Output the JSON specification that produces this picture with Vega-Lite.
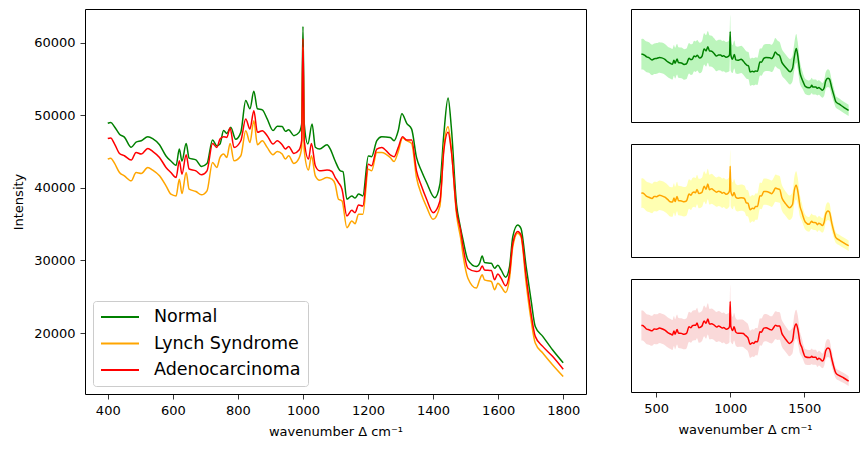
{
  "$schema": "https://vega.github.io/schema/vega-lite/v6.json",
  "padding": {"left": 12, "top": 8, "right": 5, "bottom": 5},
  "background": "white",
  "datasets": {
    "spectra": [
      {"w":400,"g":"Normal","v":48900,"sd":9000},{"w":409,"g":"Normal","v":49000,"sd":9000},{"w":421,"g":"Normal","v":48400,"sd":9000},{"w":436,"g":"Normal","v":47400,"sd":9000},{"w":451,"g":"Normal","v":47000,"sd":9000},{"w":472,"g":"Normal","v":45600,"sd":9000},{"w":487,"g":"Normal","v":46300,"sd":9000},{"w":503,"g":"Normal","v":46500,"sd":9000},{"w":523,"g":"Normal","v":47050,"sd":9000},{"w":538,"g":"Normal","v":46800,"sd":9000},{"w":559,"g":"Normal","v":45950,"sd":9000},{"w":579,"g":"Normal","v":44400,"sd":9000},{"w":594,"g":"Normal","v":43700,"sd":9000},{"w":610,"g":"Normal","v":43100,"sd":9000},{"w":620,"g":"Normal","v":45350,"sd":9000},{"w":628,"g":"Normal","v":43700,"sd":9000},{"w":641,"g":"Normal","v":46100,"sd":9000},{"w":650,"g":"Normal","v":44100,"sd":9000},{"w":671,"g":"Normal","v":43850,"sd":9000},{"w":688,"g":"Normal","v":42950,"sd":9000},{"w":705,"g":"Normal","v":43350,"sd":9000},{"w":722,"g":"Normal","v":46600,"sd":9000},{"w":735,"g":"Normal","v":45800,"sd":9000},{"w":745,"g":"Normal","v":46050,"sd":9000},{"w":756,"g":"Normal","v":47900,"sd":9000},{"w":766,"g":"Normal","v":47500,"sd":9000},{"w":778,"g":"Normal","v":48350,"sd":9000},{"w":793,"g":"Normal","v":46700,"sd":9000},{"w":809,"g":"Normal","v":47650,"sd":9000},{"w":824,"g":"Normal","v":52050,"sd":9200},{"w":837,"g":"Normal","v":50900,"sd":9200},{"w":849,"g":"Normal","v":53300,"sd":9300},{"w":860,"g":"Normal","v":50900,"sd":9200},{"w":875,"g":"Normal","v":50750,"sd":9100},{"w":890,"g":"Normal","v":49500,"sd":9000},{"w":908,"g":"Normal","v":47900,"sd":9000},{"w":921,"g":"Normal","v":48500,"sd":9000},{"w":936,"g":"Normal","v":48450,"sd":9000},{"w":946,"g":"Normal","v":47800,"sd":9000},{"w":956,"g":"Normal","v":48000,"sd":9000},{"w":972,"g":"Normal","v":47200,"sd":9000},{"w":988,"g":"Normal","v":47650,"sd":9000},{"w":996,"g":"Normal","v":48800,"sd":9500},{"w":1000,"g":"Normal","v":62250,"sd":9800},{"w":1004,"g":"Normal","v":48800,"sd":9500},{"w":1015,"g":"Normal","v":46050,"sd":8200},{"w":1028,"g":"Normal","v":48800,"sd":8200},{"w":1038,"g":"Normal","v":45600,"sd":8000},{"w":1051,"g":"Normal","v":45350,"sd":8000},{"w":1074,"g":"Normal","v":45950,"sd":8000},{"w":1084,"g":"Normal","v":45350,"sd":8000},{"w":1099,"g":"Normal","v":43700,"sd":8000},{"w":1115,"g":"Normal","v":42350,"sd":8000},{"w":1123,"g":"Normal","v":42250,"sd":8000},{"w":1135,"g":"Normal","v":38450,"sd":8000},{"w":1150,"g":"Normal","v":38900,"sd":8000},{"w":1160,"g":"Normal","v":38600,"sd":8000},{"w":1171,"g":"Normal","v":39150,"sd":8000},{"w":1184,"g":"Normal","v":38900,"sd":8000},{"w":1201,"g":"Normal","v":44400,"sd":8000},{"w":1211,"g":"Normal","v":44300,"sd":8000},{"w":1227,"g":"Normal","v":46500,"sd":8000},{"w":1242,"g":"Normal","v":47050,"sd":8000},{"w":1268,"g":"Normal","v":46950,"sd":8000},{"w":1280,"g":"Normal","v":46500,"sd":8000},{"w":1293,"g":"Normal","v":47900,"sd":8200},{"w":1304,"g":"Normal","v":50200,"sd":8300},{"w":1319,"g":"Normal","v":48900,"sd":8200},{"w":1334,"g":"Normal","v":48100,"sd":8000},{"w":1349,"g":"Normal","v":44200,"sd":7800},{"w":1364,"g":"Normal","v":42350,"sd":7600},{"w":1380,"g":"Normal","v":40750,"sd":7500},{"w":1405,"g":"Normal","v":38650,"sd":7500},{"w":1421,"g":"Normal","v":40500,"sd":7500},{"w":1433,"g":"Normal","v":47400,"sd":8000},{"w":1446,"g":"Normal","v":52400,"sd":8500},{"w":1456,"g":"Normal","v":48350,"sd":8000},{"w":1472,"g":"Normal","v":37750,"sd":6500},{"w":1482,"g":"Normal","v":35000,"sd":5500},{"w":1492,"g":"Normal","v":32830,"sd":4800},{"w":1507,"g":"Normal","v":30080,"sd":4500},{"w":1533,"g":"Normal","v":29160,"sd":4400},{"w":1543,"g":"Normal","v":29620,"sd":4400},{"w":1551,"g":"Normal","v":30630,"sd":4500},{"w":1558,"g":"Normal","v":29710,"sd":4400},{"w":1579,"g":"Normal","v":29620,"sd":4400},{"w":1589,"g":"Normal","v":28930,"sd":4300},{"w":1599,"g":"Normal","v":29350,"sd":4300},{"w":1609,"g":"Normal","v":28700,"sd":4300},{"w":1623,"g":"Normal","v":27700,"sd":4300},{"w":1635,"g":"Normal","v":29160,"sd":4600},{"w":1645,"g":"Normal","v":33290,"sd":5000},{"w":1660,"g":"Normal","v":34890,"sd":5200},{"w":1670,"g":"Normal","v":34430,"sd":5100},{"w":1686,"g":"Normal","v":29160,"sd":4600},{"w":1701,"g":"Normal","v":24580,"sd":4000},{"w":1714,"g":"Normal","v":20910,"sd":3500},{"w":1737,"g":"Normal","v":19540,"sd":3400},{"w":1767,"g":"Normal","v":17700,"sd":3300},{"w":1800,"g":"Normal","v":15900,"sd":3300},

      {"w":400,"g":"Lynch Syndrome","v":43970,"sd":8400},{"w":409,"g":"Lynch Syndrome","v":44100,"sd":8400},{"w":421,"g":"Lynch Syndrome","v":43370,"sd":8400},{"w":436,"g":"Lynch Syndrome","v":42120,"sd":8400},{"w":451,"g":"Lynch Syndrome","v":41660,"sd":8400},{"w":472,"g":"Lynch Syndrome","v":40970,"sd":8400},{"w":487,"g":"Lynch Syndrome","v":42120,"sd":8400},{"w":503,"g":"Lynch Syndrome","v":41980,"sd":8400},{"w":523,"g":"Lynch Syndrome","v":42810,"sd":8400},{"w":538,"g":"Lynch Syndrome","v":42450,"sd":8400},{"w":559,"g":"Lynch Syndrome","v":41660,"sd":8400},{"w":579,"g":"Lynch Syndrome","v":40280,"sd":8400},{"w":594,"g":"Lynch Syndrome","v":39130,"sd":8400},{"w":610,"g":"Lynch Syndrome","v":38900,"sd":8400},{"w":620,"g":"Lynch Syndrome","v":41200,"sd":8400},{"w":628,"g":"Lynch Syndrome","v":39220,"sd":8400},{"w":641,"g":"Lynch Syndrome","v":42120,"sd":8400},{"w":650,"g":"Lynch Syndrome","v":39820,"sd":8400},{"w":671,"g":"Lynch Syndrome","v":39500,"sd":8400},{"w":688,"g":"Lynch Syndrome","v":39040,"sd":8400},{"w":705,"g":"Lynch Syndrome","v":39590,"sd":8400},{"w":722,"g":"Lynch Syndrome","v":43510,"sd":8400},{"w":735,"g":"Lynch Syndrome","v":42810,"sd":8400},{"w":745,"g":"Lynch Syndrome","v":44200,"sd":8400},{"w":756,"g":"Lynch Syndrome","v":44660,"sd":8400},{"w":766,"g":"Lynch Syndrome","v":44200,"sd":8400},{"w":776,"g":"Lynch Syndrome","v":46130,"sd":8400},{"w":788,"g":"Lynch Syndrome","v":43740,"sd":8400},{"w":809,"g":"Lynch Syndrome","v":44430,"sd":8400},{"w":824,"g":"Lynch Syndrome","v":47880,"sd":8600},{"w":837,"g":"Lynch Syndrome","v":46270,"sd":8600},{"w":849,"g":"Lynch Syndrome","v":49260,"sd":8700},{"w":860,"g":"Lynch Syndrome","v":45950,"sd":8500},{"w":875,"g":"Lynch Syndrome","v":46500,"sd":8500},{"w":890,"g":"Lynch Syndrome","v":45580,"sd":8400},{"w":908,"g":"Lynch Syndrome","v":44570,"sd":8400},{"w":921,"g":"Lynch Syndrome","v":45030,"sd":8400},{"w":936,"g":"Lynch Syndrome","v":44660,"sd":8400},{"w":946,"g":"Lynch Syndrome","v":43970,"sd":8400},{"w":956,"g":"Lynch Syndrome","v":44430,"sd":8400},{"w":972,"g":"Lynch Syndrome","v":43370,"sd":8400},{"w":988,"g":"Lynch Syndrome","v":44100,"sd":8400},{"w":996,"g":"Lynch Syndrome","v":45580,"sd":8800},{"w":1000,"g":"Lynch Syndrome","v":59400,"sd":9200},{"w":1004,"g":"Lynch Syndrome","v":45120,"sd":8800},{"w":1017,"g":"Lynch Syndrome","v":42450,"sd":7600},{"w":1026,"g":"Lynch Syndrome","v":44430,"sd":7600},{"w":1038,"g":"Lynch Syndrome","v":41660,"sd":7500},{"w":1051,"g":"Lynch Syndrome","v":41060,"sd":7500},{"w":1074,"g":"Lynch Syndrome","v":41430,"sd":7500},{"w":1089,"g":"Lynch Syndrome","v":41200,"sd":7500},{"w":1099,"g":"Lynch Syndrome","v":40510,"sd":7500},{"w":1109,"g":"Lynch Syndrome","v":38440,"sd":7500},{"w":1120,"g":"Lynch Syndrome","v":38210,"sd":7500},{"w":1135,"g":"Lynch Syndrome","v":34520,"sd":7500},{"w":1150,"g":"Lynch Syndrome","v":35440,"sd":7500},{"w":1160,"g":"Lynch Syndrome","v":35070,"sd":7500},{"w":1171,"g":"Lynch Syndrome","v":36360,"sd":7500},{"w":1184,"g":"Lynch Syndrome","v":36360,"sd":7500},{"w":1201,"g":"Lynch Syndrome","v":42580,"sd":7500},{"w":1211,"g":"Lynch Syndrome","v":42350,"sd":7500},{"w":1227,"g":"Lynch Syndrome","v":44890,"sd":7500},{"w":1242,"g":"Lynch Syndrome","v":44890,"sd":7500},{"w":1268,"g":"Lynch Syndrome","v":44200,"sd":7500},{"w":1280,"g":"Lynch Syndrome","v":43640,"sd":7500},{"w":1293,"g":"Lynch Syndrome","v":45030,"sd":7600},{"w":1306,"g":"Lynch Syndrome","v":46870,"sd":7800},{"w":1319,"g":"Lynch Syndrome","v":46500,"sd":7700},{"w":1334,"g":"Lynch Syndrome","v":46130,"sd":7600},{"w":1349,"g":"Lynch Syndrome","v":41430,"sd":7300},{"w":1364,"g":"Lynch Syndrome","v":39130,"sd":7100},{"w":1380,"g":"Lynch Syndrome","v":37380,"sd":7000},{"w":1400,"g":"Lynch Syndrome","v":35670,"sd":7000},{"w":1421,"g":"Lynch Syndrome","v":37510,"sd":7000},{"w":1433,"g":"Lynch Syndrome","v":45580,"sd":7600},{"w":1446,"g":"Lynch Syndrome","v":48430,"sd":8000},{"w":1456,"g":"Lynch Syndrome","v":45350,"sd":7600},{"w":1472,"g":"Lynch Syndrome","v":36360,"sd":6000},{"w":1485,"g":"Lynch Syndrome","v":33000,"sd":5000},{"w":1492,"g":"Lynch Syndrome","v":30770,"sd":4500},{"w":1507,"g":"Lynch Syndrome","v":27560,"sd":4300},{"w":1533,"g":"Lynch Syndrome","v":26190,"sd":4200},{"w":1543,"g":"Lynch Syndrome","v":27330,"sd":4200},{"w":1551,"g":"Lynch Syndrome","v":28020,"sd":4300},{"w":1558,"g":"Lynch Syndrome","v":27330,"sd":4200},{"w":1579,"g":"Lynch Syndrome","v":27100,"sd":4200},{"w":1589,"g":"Lynch Syndrome","v":25960,"sd":4100},{"w":1599,"g":"Lynch Syndrome","v":26870,"sd":4100},{"w":1609,"g":"Lynch Syndrome","v":26410,"sd":4100},{"w":1623,"g":"Lynch Syndrome","v":25590,"sd":4100},{"w":1635,"g":"Lynch Syndrome","v":27560,"sd":4400},{"w":1645,"g":"Lynch Syndrome","v":31910,"sd":4800},{"w":1660,"g":"Lynch Syndrome","v":33750,"sd":5000},{"w":1670,"g":"Lynch Syndrome","v":33290,"sd":4900},{"w":1686,"g":"Lynch Syndrome","v":26870,"sd":4300},{"w":1701,"g":"Lynch Syndrome","v":21830,"sd":3600},{"w":1714,"g":"Lynch Syndrome","v":18620,"sd":3100},{"w":1737,"g":"Lynch Syndrome","v":17250,"sd":3000},{"w":1767,"g":"Lynch Syndrome","v":15640,"sd":3000},{"w":1800,"g":"Lynch Syndrome","v":14000,"sd":3000},

      {"w":400,"g":"Adenocarcinoma","v":46800,"sd":8600},{"w":409,"g":"Adenocarcinoma","v":46870,"sd":8600},{"w":421,"g":"Adenocarcinoma","v":46040,"sd":8600},{"w":436,"g":"Adenocarcinoma","v":44750,"sd":8600},{"w":451,"g":"Adenocarcinoma","v":44430,"sd":8600},{"w":472,"g":"Adenocarcinoma","v":43830,"sd":8600},{"w":487,"g":"Adenocarcinoma","v":44890,"sd":8600},{"w":503,"g":"Adenocarcinoma","v":44660,"sd":8600},{"w":523,"g":"Adenocarcinoma","v":45440,"sd":8600},{"w":538,"g":"Adenocarcinoma","v":45030,"sd":8600},{"w":559,"g":"Adenocarcinoma","v":44200,"sd":8600},{"w":579,"g":"Adenocarcinoma","v":42820,"sd":8600},{"w":594,"g":"Adenocarcinoma","v":42120,"sd":8600},{"w":610,"g":"Adenocarcinoma","v":41430,"sd":8600},{"w":620,"g":"Adenocarcinoma","v":43730,"sd":8600},{"w":628,"g":"Adenocarcinoma","v":41890,"sd":8600},{"w":641,"g":"Adenocarcinoma","v":44560,"sd":8600},{"w":650,"g":"Adenocarcinoma","v":42600,"sd":8600},{"w":671,"g":"Adenocarcinoma","v":42350,"sd":8600},{"w":688,"g":"Adenocarcinoma","v":41800,"sd":8600},{"w":705,"g":"Adenocarcinoma","v":42350,"sd":8600},{"w":722,"g":"Adenocarcinoma","v":46130,"sd":8600},{"w":735,"g":"Adenocarcinoma","v":45580,"sd":8600},{"w":745,"g":"Adenocarcinoma","v":46730,"sd":8600},{"w":756,"g":"Adenocarcinoma","v":47050,"sd":8600},{"w":766,"g":"Adenocarcinoma","v":46960,"sd":8600},{"w":776,"g":"Adenocarcinoma","v":48250,"sd":8700},{"w":788,"g":"Adenocarcinoma","v":45580,"sd":8600},{"w":809,"g":"Adenocarcinoma","v":46500,"sd":8600},{"w":824,"g":"Adenocarcinoma","v":49490,"sd":8800},{"w":837,"g":"Adenocarcinoma","v":48110,"sd":8800},{"w":849,"g":"Adenocarcinoma","v":50640,"sd":8900},{"w":860,"g":"Adenocarcinoma","v":47650,"sd":8700},{"w":875,"g":"Adenocarcinoma","v":47880,"sd":8700},{"w":890,"g":"Adenocarcinoma","v":47190,"sd":8600},{"w":908,"g":"Adenocarcinoma","v":46040,"sd":8600},{"w":921,"g":"Adenocarcinoma","v":46500,"sd":8600},{"w":936,"g":"Adenocarcinoma","v":45950,"sd":8600},{"w":946,"g":"Adenocarcinoma","v":45350,"sd":8600},{"w":956,"g":"Adenocarcinoma","v":45720,"sd":8600},{"w":972,"g":"Adenocarcinoma","v":44750,"sd":8600},{"w":988,"g":"Adenocarcinoma","v":45210,"sd":8600},{"w":996,"g":"Adenocarcinoma","v":46500,"sd":9000},{"w":1000,"g":"Adenocarcinoma","v":60550,"sd":9500},{"w":1004,"g":"Adenocarcinoma","v":46500,"sd":9000},{"w":1017,"g":"Adenocarcinoma","v":43970,"sd":7900},{"w":1026,"g":"Adenocarcinoma","v":46130,"sd":7900},{"w":1038,"g":"Adenocarcinoma","v":43040,"sd":7800},{"w":1051,"g":"Adenocarcinoma","v":42350,"sd":7800},{"w":1074,"g":"Adenocarcinoma","v":42450,"sd":7800},{"w":1089,"g":"Adenocarcinoma","v":42260,"sd":7800},{"w":1099,"g":"Adenocarcinoma","v":41430,"sd":7800},{"w":1109,"g":"Adenocarcinoma","v":40740,"sd":7800},{"w":1120,"g":"Adenocarcinoma","v":39820,"sd":7800},{"w":1135,"g":"Adenocarcinoma","v":36130,"sd":7800},{"w":1150,"g":"Adenocarcinoma","v":36920,"sd":7800},{"w":1160,"g":"Adenocarcinoma","v":36590,"sd":7800},{"w":1171,"g":"Adenocarcinoma","v":37650,"sd":7800},{"w":1184,"g":"Adenocarcinoma","v":37510,"sd":7800},{"w":1201,"g":"Adenocarcinoma","v":43270,"sd":7800},{"w":1211,"g":"Adenocarcinoma","v":43040,"sd":7800},{"w":1227,"g":"Adenocarcinoma","v":45350,"sd":7800},{"w":1242,"g":"Adenocarcinoma","v":45580,"sd":7800},{"w":1268,"g":"Adenocarcinoma","v":44560,"sd":7800},{"w":1280,"g":"Adenocarcinoma","v":44290,"sd":7800},{"w":1293,"g":"Adenocarcinoma","v":45580,"sd":7900},{"w":1306,"g":"Adenocarcinoma","v":47050,"sd":8000},{"w":1319,"g":"Adenocarcinoma","v":46590,"sd":8000},{"w":1334,"g":"Adenocarcinoma","v":46590,"sd":7900},{"w":1349,"g":"Adenocarcinoma","v":42350,"sd":7600},{"w":1364,"g":"Adenocarcinoma","v":40280,"sd":7400},{"w":1380,"g":"Adenocarcinoma","v":38430,"sd":7300},{"w":1400,"g":"Adenocarcinoma","v":36590,"sd":7300},{"w":1421,"g":"Adenocarcinoma","v":38200,"sd":7300},{"w":1433,"g":"Adenocarcinoma","v":45120,"sd":7800},{"w":1446,"g":"Adenocarcinoma","v":47650,"sd":8200},{"w":1456,"g":"Adenocarcinoma","v":45120,"sd":7800},{"w":1472,"g":"Adenocarcinoma","v":36820,"sd":6200},{"w":1485,"g":"Adenocarcinoma","v":34050,"sd":5200},{"w":1492,"g":"Adenocarcinoma","v":31910,"sd":4600},{"w":1507,"g":"Adenocarcinoma","v":28930,"sd":4400},{"w":1533,"g":"Adenocarcinoma","v":28470,"sd":4300},{"w":1543,"g":"Adenocarcinoma","v":28610,"sd":4300},{"w":1551,"g":"Adenocarcinoma","v":29250,"sd":4400},{"w":1558,"g":"Adenocarcinoma","v":28700,"sd":4300},{"w":1579,"g":"Adenocarcinoma","v":28610,"sd":4300},{"w":1589,"g":"Adenocarcinoma","v":27330,"sd":4200},{"w":1599,"g":"Adenocarcinoma","v":28150,"sd":4200},{"w":1609,"g":"Adenocarcinoma","v":27560,"sd":4200},{"w":1623,"g":"Adenocarcinoma","v":26510,"sd":4200},{"w":1635,"g":"Adenocarcinoma","v":28250,"sd":4500},{"w":1645,"g":"Adenocarcinoma","v":32370,"sd":4900},{"w":1660,"g":"Adenocarcinoma","v":33980,"sd":5100},{"w":1670,"g":"Adenocarcinoma","v":33520,"sd":5000},{"w":1686,"g":"Adenocarcinoma","v":27790,"sd":4400},{"w":1701,"g":"Adenocarcinoma","v":22750,"sd":3600},{"w":1714,"g":"Adenocarcinoma","v":19540,"sd":3000},{"w":1737,"g":"Adenocarcinoma","v":18160,"sd":2900},{"w":1767,"g":"Adenocarcinoma","v":16790,"sd":2900},{"w":1800,"g":"Adenocarcinoma","v":15000,"sd":2800}
    ]
  },
  "config": {
    "font": "DejaVu Sans",
    "view": {"stroke": "#000", "strokeWidth": 1},
    "axis": {
      "domain": false,
      "grid": false,
      "tickColor": "#000",
      "tickSize": 5,
      "tickWidth": 0.8,
      "labelFontSize": 13,
      "titleFontSize": 13,
      "labelColor": "#000",
      "titleColor": "#000",
      "titleFontWeight": "normal",
      "labelPadding": 5,
      "titlePadding": 8
    }
  },
  "hconcat": [
    {
      "width": 501,
      "height": 385,
      "data": {"name": "spectra"},
      "mark": {"type": "line", "strokeWidth": 1.5, "interpolate": "monotone"},
      "encoding": {
        "x": {
          "field": "w",
          "type": "quantitative",
          "scale": {"domain": [330, 1870], "nice": false, "zero": false},
          "axis": {"values": [400, 600, 800, 1000, 1200, 1400, 1600, 1800], "format": "d", "title": "wavenumber Δ cm⁻¹"}
        },
        "y": {
          "field": "v",
          "type": "quantitative",
          "scale": {"domain": [11600, 64650], "nice": false, "zero": false},
          "axis": {"values": [20000, 30000, 40000, 50000, 60000], "format": "d", "title": "Intensity"}
        },
        "color": {
          "field": "g",
          "type": "nominal",
          "sort": ["Normal", "Lynch Syndrome", "Adenocarcinoma"],
          "scale": {"domain": ["Normal", "Lynch Syndrome", "Adenocarcinoma"], "range": ["green", "orange", "red"]},
          "legend": {
            "title": null,
            "orient": "bottom-left",
            "offset": 8,
            "symbolType": "stroke",
            "symbolSize": 1444,
            "symbolStrokeWidth": 2,
            "clipHeight": 18,
            "rowPadding": 8.5,
            "labelOffset": 14,
            "labelFontSize": 17.5,
            "labelColor": "#000",
            "padding": 7,
            "fillColor": "rgba(255,255,255,0.8)",
            "strokeColor": "#cccccc",
            "cornerRadius": 3
          }
        }
      }
    },
    {
      "spacing": 20,
      "vconcat": [
        {
          "width": 228,
          "height": 113,
          "data": {"name": "spectra"},
          "transform": [{"filter": "datum.g === 'Normal'"}],
          "encoding": {
            "x": {"field": "w", "type": "quantitative", "scale": {"domain": [330, 1870], "nice": false, "zero": false}, "axis": null}
          },
          "layer": [
            {
              "mark": {"type": "errorband", "color": "#90ee90", "opacity": 0.6, "interpolate": "monotone"},
              "encoding": {
                "y": {"field": "v", "type": "quantitative", "scale": {"zero": false, "nice": false, "padding": 6}, "axis": null},
                "yError": {"field": "sd"}
              }
            },
            {
              "mark": {"type": "line", "color": "green", "strokeWidth": 1.5, "interpolate": "monotone"},
              "encoding": {"y": {"field": "v", "type": "quantitative", "axis": null}}
            }
          ]
        },
        {
          "width": 228,
          "height": 113,
          "data": {"name": "spectra"},
          "transform": [{"filter": "datum.g === 'Lynch Syndrome'"}],
          "encoding": {
            "x": {"field": "w", "type": "quantitative", "scale": {"domain": [330, 1870], "nice": false, "zero": false}, "axis": null}
          },
          "layer": [
            {
              "mark": {"type": "errorband", "color": "yellow", "opacity": 0.3, "interpolate": "monotone"},
              "encoding": {
                "y": {"field": "v", "type": "quantitative", "scale": {"zero": false, "nice": false, "padding": 6}, "axis": null},
                "yError": {"field": "sd"}
              }
            },
            {
              "mark": {"type": "line", "color": "orange", "strokeWidth": 1.5, "interpolate": "monotone"},
              "encoding": {"y": {"field": "v", "type": "quantitative", "axis": null}}
            }
          ]
        },
        {
          "width": 228,
          "height": 113,
          "data": {"name": "spectra"},
          "transform": [{"filter": "datum.g === 'Adenocarcinoma'"}],
          "encoding": {
            "x": {"field": "w", "type": "quantitative", "scale": {"domain": [330, 1870], "nice": false, "zero": false}, "axis": {"values": [500, 1000, 1500], "format": "d", "title": "wavenumber Δ cm⁻¹"}}
          },
          "layer": [
            {
              "mark": {"type": "errorband", "color": "lightcoral", "opacity": 0.3, "interpolate": "monotone"},
              "encoding": {
                "y": {"field": "v", "type": "quantitative", "scale": {"zero": false, "nice": false, "padding": 6}, "axis": null},
                "yError": {"field": "sd"}
              }
            },
            {
              "mark": {"type": "line", "color": "red", "strokeWidth": 1.5, "interpolate": "monotone"},
              "encoding": {"y": {"field": "v", "type": "quantitative", "axis": null}}
            }
          ]
        }
      ],
      "resolve": {"scale": {"x": "independent", "y": "independent"}}
    }
  ],
  "spacing": 43,
  "resolve": {"scale": {"x": "independent", "y": "independent", "color": "independent"}}
}
